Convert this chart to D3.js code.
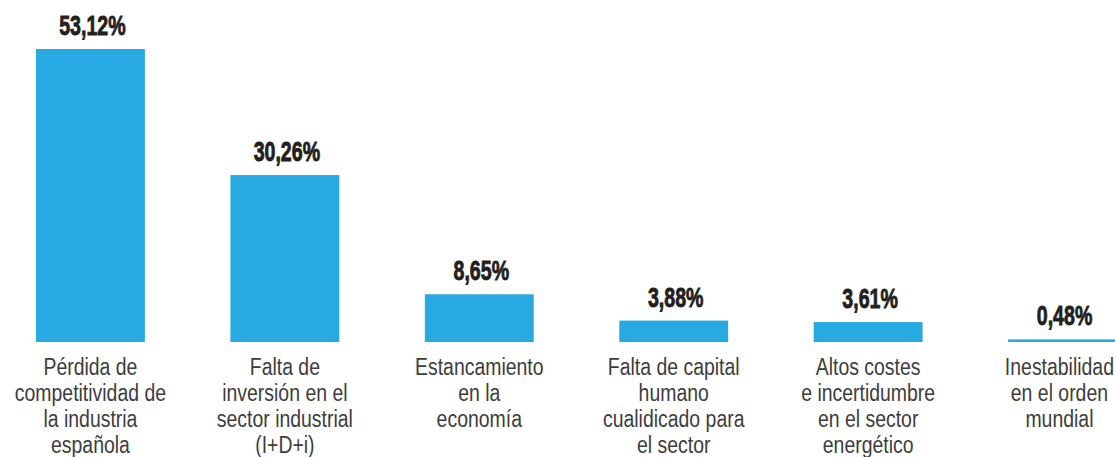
<!DOCTYPE html>
<html>
<head>
<meta charset="utf-8">
<script src="https://cdn.jsdelivr.net/npm/d3@7"></script>
<style>
  html, body { margin: 0; padding: 0; background: #ffffff; }
  svg { display: block; }
</style>
</head>
<body>
<div id="chart"></div>
<script>
// Motivos de preocupación (% de respuestas)
const categories = [
  "Pérdida de competitividad",
  "Falta de inversión",
  "Estancamiento",
  "Capital humano",
  "Costes energéticos",
  "Inestabilidad"
];
const values = [53.12, 30.26, 8.65, 3.88, 3.61, 0.48];
const valueLabels = ["53,12%", "30,26%", "8,65%", "3,88%", "3,61%", "0,48%"];
const categoryLines = [
  ["Pérdida de", "competitividad de", "la industria", "española"],
  ["Falta de", "inversión en el", "sector industrial", "(I+D+i)"],
  ["Estancamiento", "en la", "economía"],
  ["Falta de capital", "humano", "cualidicado para", "el sector"],
  ["Altos costes", "e incertidumbre", "en el sector", "energético"],
  ["Inestabilidad", "en el orden", "mundial"]
];

const width = 1115, height = 457;
const baseline = 342;
const rightLimit = 1114;
const condense = 0.81;      // horizontal squeeze for the category text
const condenseBold = 0.7;   // horizontal squeeze for the value labels
const lineStep = 26.1;

const svg = d3.select("#chart").append("svg")
  .attr("width", width)
  .attr("height", height);

const x = d3.scaleBand()
  .domain(categories)
  .range([36, 1117])
  .paddingInner(0.44)
  .paddingOuter(0);

const y = d3.scaleLinear()
  .domain([0, 53.12])
  .range([baseline, 49]);

const data = categories.map((c, i) => ({
  cat: c, value: values[i], label: valueLabels[i], lines: categoryLines[i]
}));

const cx = d => x(d.cat) + x.bandwidth() / 2;

// Bars
svg.selectAll("rect.bar")
  .data(data)
  .join("rect")
  .attr("class", "bar")
  .attr("x", d => x(d.cat))
  .attr("y", d => y(d.value))
  .attr("width", x.bandwidth())
  .attr("height", d => y(0) - y(d.value))
  .attr("fill", "#27a9e1");

// Value labels (condensed heavy type)
svg.selectAll("text.value")
  .data(data)
  .join("text")
  .attr("class", "value")
  .attr("transform", d => `translate(${cx(d) + 2},${y(d.value) - 14}) scale(${condenseBold},1)`)
  .attr("text-anchor", "middle")
  .attr("font-family", "'Liberation Sans', Arial, sans-serif")
  .attr("font-weight", "bold")
  .attr("font-size", 28)
  .attr("fill", "#231f20")
  .attr("stroke", "#231f20")
  .attr("stroke-width", 0.9)
  .text(d => d.label);

// Category labels
const catText = svg.selectAll("text.cat")
  .data(data)
  .join("text")
  .attr("class", "cat")
  .attr("text-anchor", "middle")
  .attr("font-family", "'Liberation Sans', Arial, sans-serif")
  .attr("font-size", 24)
  .attr("fill", "#3d3d3d");

catText.selectAll("tspan")
  .data(d => d.lines)
  .join("tspan")
  .attr("x", 0)
  .attr("dy", (d, i) => i === 0 ? 0 : lineStep)
  .text(d => d);

// Centre each block under its bar, keeping it inside the right edge
catText.attr("transform", function (d) {
  let maxW = 0;
  d3.select(this).selectAll("tspan").each(function () {
    maxW = Math.max(maxW, this.getComputedTextLength());
  });
  const half = maxW * condense / 2;
  const px = Math.min(cx(d), rightLimit - half);
  return `translate(${px},${baseline + 33}) scale(${condense},1)`;
});
</script>
</body>
</html>
